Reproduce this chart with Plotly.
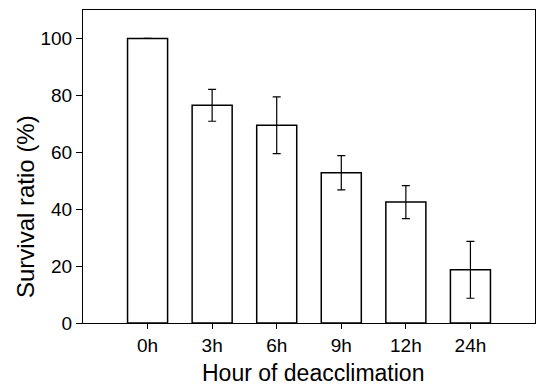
import plotly.graph_objects as go

categories = ["0h", "3h", "6h", "9h", "12h", "24h"]
survival = [100, 76.5, 69.5, 52.8, 42.5, 18.7]
errors = [0, 5.6, 10.0, 6.0, 5.8, 10.0]

fig = go.Figure()
fig.add_trace(go.Bar(
    x=categories, y=survival,
    marker=dict(color="white", line=dict(color="black", width=1.5)),
    error_y=dict(type="data", array=errors, visible=True, color="black", thickness=1.2, width=4),
    width=0.62,
))

font = "Liberation Sans, Arial, sans-serif"
pw, ph = 537 - 83 - 2, 388 - 10 - 65

fig.update_layout(
    width=537, height=388,
    margin=dict(l=83, r=2, t=10, b=65),
    paper_bgcolor="white", plot_bgcolor="white",
    showlegend=False,
    font=dict(family=font, color="black", size=19),
    xaxis=dict(
        type="category", range=[-1, 6],
        showline=True, mirror=True, linecolor="black", linewidth=1,
        ticks="outside", ticklen=5, tickcolor="black",
        showgrid=False, zeroline=False,
        tickfont=dict(size=19),
    ),
    yaxis=dict(
        range=[0, 110], dtick=20, tick0=0,
        showline=True, mirror=True, linecolor="black", linewidth=1,
        ticks="outside", ticklen=6, tickcolor="black",
        showgrid=False, zeroline=False,
        tickfont=dict(size=19),
    ),
    annotations=[
        dict(text="Hour of deacclimation", xref="paper", yref="paper",
             x=(313 - 83) / pw, y=(323 - 373) / ph, xanchor="center", yanchor="middle",
             showarrow=False, font=dict(size=23)),
        dict(text="Survival ratio (%)", textangle=-90, xref="paper", yref="paper",
             x=(25 - 83) / pw, y=(323 - 207) / ph, xanchor="center", yanchor="middle",
             showarrow=False, font=dict(size=24)),
    ],
)

fig.write_html("out.html")
